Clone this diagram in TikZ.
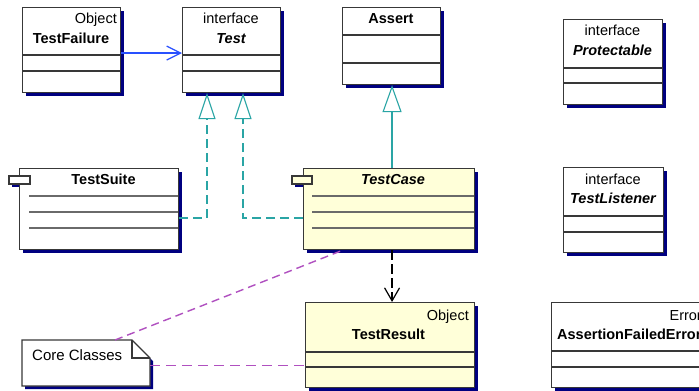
\documentclass[tikz,border=0pt]{standalone}
\usepackage{fontspec}
\setmainfont{Liberation Sans}
\usetikzlibrary{arrows.meta,calc,shadows}
\definecolor{navyshadow}{HTML}{000080}
\definecolor{umlyellow}{HTML}{FFFFD9}
\definecolor{teallink}{HTML}{2AA5A5}
\definecolor{bluelink}{HTML}{2850FF}
\definecolor{notelink}{HTML}{B050C0}
\definecolor{boxline}{HTML}{383838}
\definecolor{rowline}{HTML}{6A6A6A}
\begin{document}
\begin{tikzpicture}[x=1bp,y=-1bp,
  classbox/.style={draw=boxline, line width=1.1bp, fill=white, rectangle, inner sep=0pt, anchor=north west,
    drop shadow={shadow xshift=3bp, shadow yshift=-3bp, fill=navyshadow, opacity=1}},
  yellowbox/.style={classbox, fill=umlyellow},
  sep/.style={draw=boxline, line width=1.1bp},
  row/.style={draw=rowline, line width=1.5bp},
  tabbox/.style={draw=boxline, line width=1.1bp},
  txt/.style={inner sep=0pt, font=\fontsize{14.5bp}{16bp}\selectfont},
  stereo/.style={txt},
  cname/.style={txt, font=\fontsize{14.5bp}{16bp}\selectfont\bfseries},
  iname/.style={txt, font=\fontsize{14.5bp}{16bp}\selectfont\bfseries\itshape},
  real/.style={draw=teallink, line width=1.5bp, dash pattern=on 9bp off 5bp,
    -{Triangle[length=26bp,width=17bp,fill=white,line width=1.1bp]}},
  gen/.style={draw=teallink, line width=1.3bp, -{Triangle[length=27bp,width=19bp,fill=white,line width=1.1bp]}},
  assoc/.style={draw=bluelink, line width=1.2bp, -{Straight Barb[length=14bp,width=14bp]}},
  dep/.style={draw=black, line width=1.2bp, dash pattern=on 10bp off 4bp, -{Straight Barb[length=13bp,width=15bp]}},
  notelinkstyle/.style={draw=notelink, line width=1.4bp, dash pattern=on 8bp off 5bp}
]
\clip (0,0) rectangle (699,390);
\fill[white] (0,0) rectangle (699,390);

% TestFailure
\node[classbox, minimum width=98bp, minimum height=85bp] (tf) at (22,7) {};
\draw[sep] (22,55) -- (120,55) (22,71) -- (120,71);
\node[stereo, anchor=base east] (tfs) at (117,23) {Object};
\node[cname, anchor=base] (tfn) at (71,43) {TestFailure};

% Test
\node[classbox, minimum width=98bp, minimum height=85bp] (test) at (182,7) {};
\draw[sep] (182,55) -- (280,55) (182,71) -- (280,71);
\node[stereo, anchor=base] (tests) at (231,23) {interface};
\node[iname, anchor=base] (testn) at (231,43) {Test};

% Assert
\node[classbox, minimum width=98bp, minimum height=77bp] (as) at (342,7) {};
\draw[sep] (342,35) -- (440,35) (342,63) -- (440,63);
\node[cname, anchor=base] (asn) at (391,23) {Assert};

% Protectable
\node[classbox, minimum width=99bp, minimum height=85bp] (prot) at (563,19) {};
\draw[sep] (563,68) -- (662,68) (563,83) -- (662,83);
\node[stereo, anchor=base] (prots) at (612.5,35) {interface};
\node[iname, anchor=base] (protn) at (612.5,55) {Protectable};

% TestSuite
\fill[navyshadow] (12,179) rectangle (33,187);
\node[classbox, minimum width=159bp, minimum height=81bp] (ts) at (19,168) {};
\draw[tabbox, fill=white] (9,176) rectangle (30,184);
\draw[row] (29,196) -- (178,196) (29,212) -- (178,212) (29,228) -- (178,228);
\node[cname, anchor=base] (tsn) at (103.5,184) {TestSuite};

% TestCase
\fill[navyshadow] (295,179) rectangle (315,187);
\node[yellowbox, minimum width=171bp, minimum height=81bp] (tc) at (303,168) {};
\draw[tabbox, fill=umlyellow] (292,176) rectangle (312,184);
\draw[row] (312,196) -- (474,196) (312,212) -- (474,212) (312,228) -- (474,228);
\node[iname, anchor=base] (tcn) at (393,184) {TestCase};

% TestListener
\node[classbox, minimum width=100bp, minimum height=85bp] (tl) at (563,167) {};
\draw[sep] (563,216) -- (663,216) (563,232) -- (663,232);
\node[stereo, anchor=base] (tls) at (613,184) {interface};
\node[iname, anchor=base] (tln) at (613,203) {TestListener};

% TestResult
\node[yellowbox, minimum width=169bp, minimum height=85bp] (tr) at (305,302) {};
\draw[sep] (305,352) -- (474,352) (305,367) -- (474,367);
\node[stereo, anchor=base east] (trs) at (469,320) {Object};
\node[cname, anchor=base] (trn) at (388.5,339) {TestResult};

% AssertionFailedError
\node[classbox, minimum width=155bp, minimum height=85bp] (afe) at (551,302) {};
\draw[sep] (551,351) -- (706,351) (551,367) -- (706,367);
\node[stereo, anchor=base east] (afes) at (702,320) {Error};
\node[cname, anchor=base west] (afen) at (557,339) {AssertionFailedError};

% Note
\node[minimum width=128bp, minimum height=46bp, inner sep=0pt, anchor=north west] (note) at (22,340) {};
\fill[navyshadow] (25,343) -- (135,343) -- (153,361) -- (153,389) -- (25,389) -- cycle;
\draw[boxline, line width=1.1bp, fill=white] (22,340) -- (132,340) -- (150,358) -- (150,386) -- (22,386) -- cycle;
\draw[boxline, line width=1.1bp] (132,340) -- (132,358) -- (150,358);
\node[txt, font=\fontsize{15bp}{17bp}\selectfont, anchor=base west] (noten) at (32,360) {Core Classes};

% Connectors
\draw[assoc] ([yshift=-3bp]tf.east) -- ([yshift=-3bp]test.west);
\draw[real] ([yshift=-9bp]ts.east) -| ($(test.south west)+(25,0)$);
\draw[real] ([yshift=-9bp]tc.west) -| ($(test.south west)+(61,0)$);
\draw[gen] ([xshift=0.5bp]tc.north -| as.south) -- ([xshift=0.5bp]as.south);
\draw[dep] ([xshift=0.5bp]tc.south -| as.south) -- ([xshift=0.5bp]tr.north -| as.south);
\draw[notelinkstyle] ($(note.north west)+(93,0)$) -- ($(tc.south west)+(40,0)$);
\draw[notelinkstyle, dash pattern=on 10bp off 6bp] ([yshift=-2bp]note.east) -- ([yshift=-2bp]note.east -| tr.west);
\end{tikzpicture}
\end{document}
